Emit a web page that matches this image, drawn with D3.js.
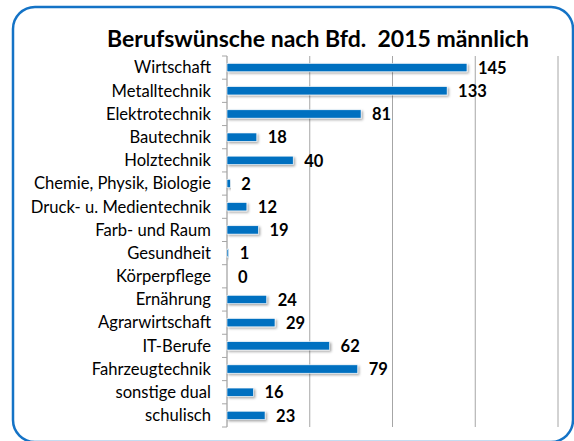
<!DOCTYPE html>
<html>
<head>
<meta charset="utf-8">
<script src="https://cdn.jsdelivr.net/npm/d3@7"></script>
<style>
  body { margin: 0; background: #fff; }
  svg { display: block; font-family: Lato, "Open Sans", sans-serif; }
</style>
</head>
<body>
<svg id="chart" width="574" height="441"></svg>
<script>
const categories = ['Wirtschaft', 'Metalltechnik', 'Elektrotechnik', 'Bautechnik', 'Holztechnik',
  'Chemie, Physik, Biologie', 'Druck- u. Medientechnik', 'Farb- und Raum', 'Gesundheit',
  'Körperpflege', 'Ernährung', 'Agrarwirtschaft', 'IT-Berufe', 'Fahrzeugtechnik',
  'sonstige dual', 'schulisch'];
const values = [145, 133, 81, 18, 40, 2, 12, 19, 1, 0, 24, 29, 62, 79, 16, 23];
const xTicks = [0, 50, 100, 150, 200];

const svg = d3.select('#chart');
const margin = { top: 56, left: 227, right: 16, bottom: 14 };
const width = 558 - margin.left,
      height = 427 - margin.top;

// rounded frame (bottom edge runs just past the picture)
svg.append('rect')
  .attr('x', 13).attr('y', 7)
  .attr('width', 560).attr('height', 435)
  .attr('rx', 22).attr('ry', 22)
  .attr('fill', '#fff')
  .attr('stroke', '#1473C6')
  .attr('stroke-width', 2.5);

const defs = svg.append('defs');
const f = defs.append('filter').attr('id', 'shadow')
  .attr('x', '-10%').attr('y', '-50%').attr('width', '130%').attr('height', '250%');
f.append('feDropShadow')
  .attr('dx', 1.5).attr('dy', 1.5).attr('stdDeviation', 1)
  .attr('flood-color', '#000').attr('flood-opacity', 0.35);

svg.append('text')
  .attr('x', 318).attr('y', 47)
  .attr('text-anchor', 'middle')
  .attr('font-size', 23).attr('font-weight', 'bold')
  .attr('fill', '#000')
  .style('white-space', 'pre')
  .text('Berufswünsche nach Bfd.  2015 männlich');

const g = svg.append('g')
  .attr('transform', `translate(${margin.left}, ${margin.top})`);

const x = d3.scaleLinear().domain([0, 200]).range([0, width]);
const y = d3.scaleBand().domain(categories).range([0, height])
  .paddingInner(0.64).paddingOuter(0.32);

// vertical grid lines
g.selectAll('.grid')
  .data(xTicks.slice(1))
  .enter().append('line')
  .attr('x1', d => x(d)).attr('x2', d => x(d))
  .attr('y1', 0).attr('y2', height)
  .attr('stroke', '#a6a6a6').attr('stroke-width', 1);

// category axis line and ticks between categories
const step = height / categories.length;
g.append('line')
  .attr('x1', 0).attr('x2', 0).attr('y1', 0).attr('y2', height)
  .attr('stroke', '#a6a6a6').attr('stroke-width', 1.3);
g.selectAll('.tick')
  .data(d3.range(categories.length + 1))
  .enter().append('line')
  .attr('x1', -5).attr('x2', 0)
  .attr('y1', d => d * step).attr('y2', d => d * step)
  .attr('stroke', '#a6a6a6').attr('stroke-width', 1);

g.selectAll('.label')
  .data(categories)
  .enter().append('text')
  .attr('x', -16)
  .attr('y', d => y(d) + y.bandwidth() / 2)
  .attr('dy', '0.35em')
  .attr('text-anchor', 'end')
  .attr('font-size', 16.6)
  .attr('fill', '#000')
  .text(d => d);

g.selectAll('.bar')
  .data(values)
  .enter().append('rect')
  .attr('x', 0)
  .attr('y', (d, i) => y(categories[i]))
  .attr('width', d => x(d))
  .attr('height', y.bandwidth())
  .attr('fill', '#0070C0')
  .attr('stroke', '#fff').attr('stroke-width', 0.6)
  .attr('filter', 'url(#shadow)');

g.selectAll('.value')
  .data(values)
  .enter().append('text')
  .attr('x', d => x(d) + 11)
  .attr('y', (d, i) => y(categories[i]) + y.bandwidth() / 2)
  .attr('dy', '0.38em')
  .attr('font-size', 16.5).attr('font-weight', 'bold')
  .attr('fill', '#000')
  .text(d => d);
</script>
</body>
</html>
